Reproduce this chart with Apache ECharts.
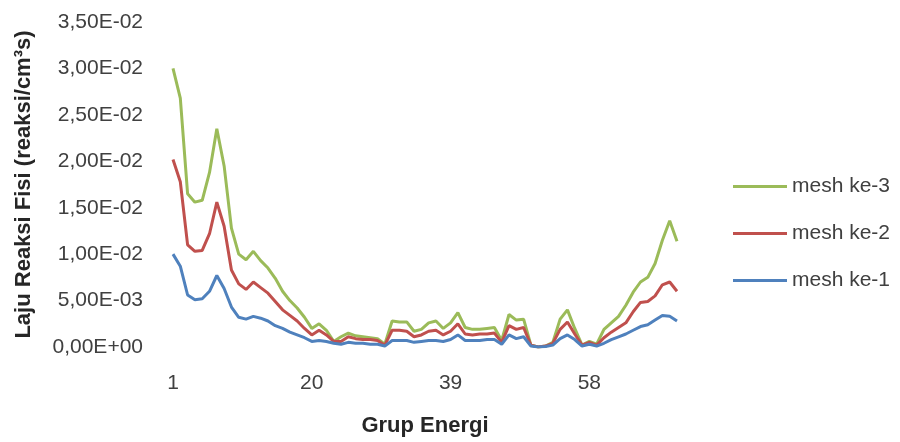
<!DOCTYPE html>
<html>
<head>
<meta charset="utf-8">
<script src="https://cdn.jsdelivr.net/npm/echarts@6/dist/echarts.min.js"></script>
<style>
  html, body { margin: 0; padding: 0; background: #fff; }
  #chart { width: 900px; height: 442px; }
</style>
</head>
<body>
<div id="chart"></div>
<script>
// energy groups 1..70
var groups = [];
for (var g = 1; g <= 70; g++) groups.push(String(g));

var legendNames = ['mesh ke-3', 'mesh ke-2', 'mesh ke-1'];

// values, in units of 1E-03
var mesh3 = [30.0, 26.8, 16.5, 15.6, 15.8, 18.8, 23.5, 19.5, 12.8, 10.0,
             9.4, 10.3, 9.3, 8.5, 7.4, 6.0, 5.0, 4.2, 3.2, 2.0,
             2.5, 1.8, 0.6, 1.1, 1.5, 1.2, 1.1, 1.0, 0.9, 0.3,
             2.8, 2.7, 2.7, 1.7, 1.9, 2.6, 2.8, 2.0, 2.6, 3.7,
             2.1, 1.9, 1.9, 2.0, 2.1, 0.7, 3.5, 2.9, 3.0, 0.2,
             0.0, 0.1, 0.5, 3.0, 4.0, 2.0, 0.2, 0.6, 0.3, 1.9,
             2.6, 3.3, 4.5, 5.9, 7.0, 7.5, 9.0, 11.5, 13.6, 11.4];
var mesh2 = [20.2, 17.8, 11.0, 10.3, 10.4, 12.2, 15.6, 13.0, 8.3, 6.8,
             6.2, 7.0, 6.4, 5.8, 4.9, 4.0, 3.4, 2.8, 2.0, 1.3,
             1.8, 1.3, 0.6, 0.6, 1.1, 0.9, 0.8, 0.8, 0.7, 0.2,
             1.8, 1.8, 1.7, 1.1, 1.3, 1.7, 1.8, 1.3, 1.7, 2.5,
             1.4, 1.3, 1.4, 1.4, 1.5, 0.5, 2.3, 1.9, 2.1, 0.2,
             0.0, 0.1, 0.4, 1.9, 2.7, 1.4, 0.2, 0.5, 0.2, 1.0,
             1.6, 2.1, 2.6, 3.8, 4.8, 4.9, 5.5, 6.7, 7.0, 6.0];
var mesh1 = [10.0, 8.7, 5.6, 5.1, 5.2, 6.0, 7.7, 6.3, 4.3, 3.2,
             3.0, 3.3, 3.1, 2.8, 2.3, 2.0, 1.6, 1.3, 1.0, 0.6,
             0.7, 0.6, 0.4, 0.3, 0.5, 0.4, 0.4, 0.3, 0.3, 0.1,
             0.7, 0.7, 0.7, 0.5, 0.6, 0.7, 0.7, 0.6, 0.8, 1.3,
             0.7, 0.7, 0.7, 0.8, 0.8, 0.3, 1.3, 0.9, 1.1, 0.1,
             0.0, 0.05, 0.2, 0.9, 1.3, 0.8, 0.1, 0.3, 0.1, 0.4,
             0.8, 1.1, 1.4, 1.8, 2.2, 2.4, 2.9, 3.4, 3.3, 2.8];

function scaled(arr) {
    return arr.map(function (v) { return v / 1000; });
}

// 3,50E-02 style labels
function sciLabel(v) {
    if (Math.abs(v) < 1e-12) return '0,00E+00';
    var parts = v.toExponential(2).split('e');
    var exp = parseInt(parts[1], 10);
    var sign = exp < 0 ? '-' : '+';
    var e = Math.abs(exp);
    return parts[0].replace('.', ',') + 'E' + sign + (e < 10 ? '0' + e : e);
}

var chart = echarts.init(document.getElementById('chart'));
var font = 'Liberation Sans';

var option = {
    animation: false,
    textStyle: { fontFamily: font },
    grid: {
        left: 173,
        right: 223,
        top: 22,
        bottom: 92
    },
    legend: {
        orient: 'vertical',
        left: 728,
        top: 171,
        itemWidth: 54,
        itemHeight: 3,
        itemGap: 26,
        icon: 'rect',
        data: legendNames,
        textStyle: { fontFamily: font, fontSize: 21, color: '#404040', padding: [0, 0, 0, 0] },
        itemStyle: { borderWidth: 0 }
    },
    xAxis: {
        type: 'category',
        boundaryGap: false,
        data: groups,
        name: 'Grup Energi',
        nameLocation: 'middle',
        nameGap: 68,
        nameTextStyle: { fontFamily: font, fontSize: 22, fontWeight: 'bold', color: '#262626' },
        axisLine: { show: false },
        axisTick: { show: false },
        axisLabel: {
            interval: 18,
            margin: 26,
            fontFamily: font,
            fontSize: 21,
            color: '#404040'
        },
        splitLine: { show: false }
    },
    yAxis: {
        type: 'value',
        min: 0,
        max: 0.035,
        interval: 0.005,
        name: 'Laju Reaksi Fisi (reaksi/cm³s)',
        nameLocation: 'middle',
        nameGap: 138,
        nameTextStyle: { fontFamily: font, fontSize: 22, fontWeight: 'bold', color: '#262626' },
        axisLine: { show: false },
        axisTick: { show: false },
        splitLine: { show: false },
        axisLabel: {
            margin: 30,
            fontFamily: font,
            fontSize: 21,
            color: '#404040',
            formatter: sciLabel
        }
    },
    series: [
        {
            name: 'mesh ke-3',
            type: 'line',
            data: scaled(mesh3),
            showSymbol: false,
            color: '#9BBB59',
            lineStyle: { width: 3 }
        },
        {
            name: 'mesh ke-2',
            type: 'line',
            data: scaled(mesh2),
            showSymbol: false,
            color: '#C0504D',
            lineStyle: { width: 3 }
        },
        {
            name: 'mesh ke-1',
            type: 'line',
            data: scaled(mesh1),
            showSymbol: false,
            color: '#4F81BD',
            lineStyle: { width: 3 }
        }
    ]
};

option && chart.setOption(option);
</script>
</body>
</html>
